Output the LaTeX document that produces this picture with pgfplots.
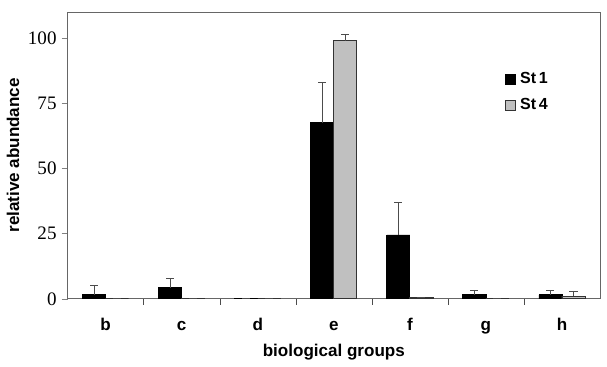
\documentclass[border=0pt]{standalone}
\usepackage{fontspec}
\setmainfont{Liberation Sans}
\newfontfamily\numfont{Liberation Serif}
\usepackage{pgfplots}
\pgfplotsset{compat=1.18}
\definecolor{barg}{RGB}{192,192,192}
\begin{document}
\begin{tikzpicture}
\begin{axis}[
  name=ax,
  scale only axis,
  width=265.5pt, height=143pt,
  xmin=-0.5, xmax=6.5,
  ymin=0, ymax=110,
  ytick={0,25,50,75,100},
  yticklabel style={font=\numfont\fontsize{9.5}{10}\selectfont, xshift=1pt},
  /pgf/number format/assume math mode=true,
  xtick={0,...,6},
  xticklabels={b,c,d,e,f,g,h},
  xticklabel style={font=\bfseries\fontsize{8.5}{10}\selectfont, yshift=-1pt, text height=1.6ex, text depth=0.3ex},
  major x tick style={draw=none},
  minor xtick={0.5,1.5,...,5.5},
  minor x tick style={black!70},
  minor tick length=3pt,
  major tick length=3pt,
  tick align=outside,
  xtick pos=bottom, ytick pos=left,
  axis line style={black!60},
  ylabel={relative abundance},
  xlabel={biological groups},
  label style={font=\bfseries\fontsize{8.5}{10}\selectfont},
  ylabel style={yshift=-2.5pt},
  xlabel style={yshift=2pt},
  ybar, bar width=11.5pt,
  legend style={draw=none, fill=none, at={(0.81,0.82)}, anchor=north west,
    font=\bfseries\fontsize{8}{9}\selectfont, row sep=2pt},
  legend image code/.code={\draw[#1] (0pt,-2.5pt) rectangle (5pt,2.5pt);},
]
\addplot[fill=black, draw=black, bar shift=-5.75pt,
  error bars/.cd, y dir=plus, y explicit,
  error bar style={black!70, line width=0.6pt}, error mark options={rotate=90, mark size=2pt, black!70}]
  coordinates {(0,1.5) +- (0,3.5) (1,4.2) +- (0,3.5) (2,0.3) +- (0,0) (3,67.5) +- (0,15.5) (4,24.5) +- (0,12.5) (5,1.5) +- (0,1.6) (6,1.5) +- (0,1.6)};
\addplot[fill=barg, draw=black!80, bar shift=5.75pt,
  error bars/.cd, y dir=plus, y explicit,
  error bar style={black!70, line width=0.6pt}, error mark options={rotate=90, mark size=2pt, black!70}]
  coordinates {(0,0) +- (0,0) (1,0.3) +- (0,0) (2,0) +- (0,0) (3,99) +- (0,2.5) (4,0.5) +- (0,0) (5,0) +- (0,0) (6,1.0) +- (0,2.0)};
\legend{St\,1, St\,4}
\end{axis}
\path ([yshift=6pt,xshift=3.5pt]ax.north east);
\end{tikzpicture}
\end{document}
